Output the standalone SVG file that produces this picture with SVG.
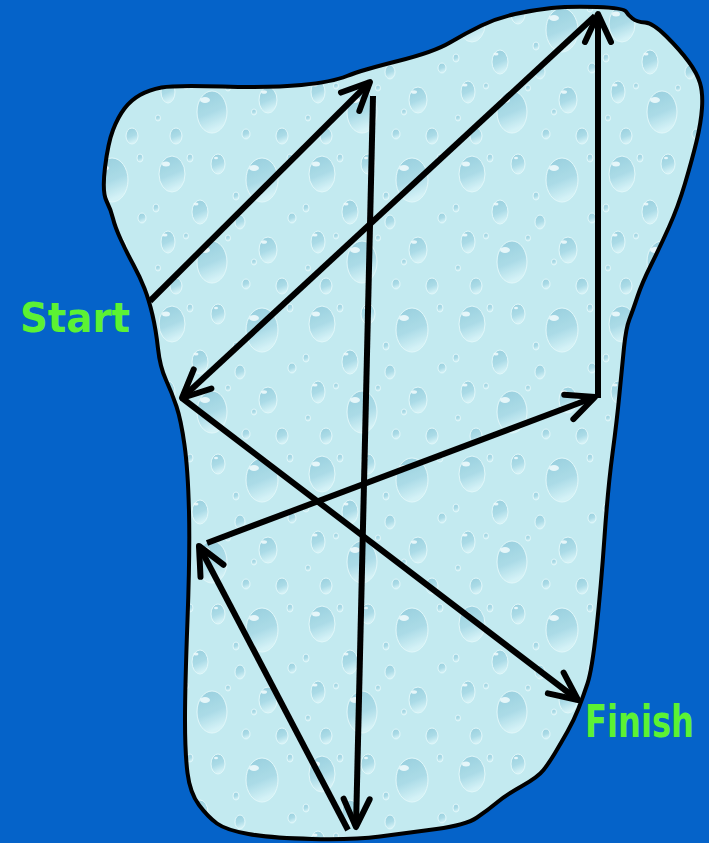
<svg xmlns="http://www.w3.org/2000/svg" width="709" height="843" viewBox="0 0 709 843">
  <defs>
    <linearGradient id="drop" x1="0" y1="0" x2="0.3" y2="1">
      <stop offset="0" stop-color="#93CCDB"/>
      <stop offset="0.6" stop-color="#A9DAE6"/>
      <stop offset="1" stop-color="#D6F3F7"/>
    </linearGradient>
    <pattern id="water" width="150" height="150" patternUnits="userSpaceOnUse">
      <rect width="150" height="150" fill="#C3EAF0"/>
      <g fill="url(#drop)" stroke="#E4F8FA" stroke-width="1" opacity="0.9">
        <ellipse cx="22" cy="24" rx="13" ry="18"/>
        <ellipse cx="68" cy="14" rx="7" ry="10"/>
        <ellipse cx="112" cy="30" rx="16" ry="22"/>
        <ellipse cx="50" cy="62" rx="8" ry="12"/>
        <ellipse cx="90" cy="72" rx="5" ry="7"/>
        <ellipse cx="18" cy="92" rx="7" ry="11"/>
        <ellipse cx="62" cy="112" rx="15" ry="21"/>
        <ellipse cx="118" cy="100" rx="9" ry="13"/>
        <ellipse cx="132" cy="136" rx="6" ry="8"/>
        <ellipse cx="26" cy="136" rx="6" ry="8"/>
        <ellipse cx="96" cy="134" rx="4" ry="5"/>
        <ellipse cx="142" cy="68" rx="4" ry="5"/>
        <ellipse cx="40" cy="8" rx="3" ry="4"/>
        <ellipse cx="86" cy="46" rx="3" ry="4"/>
        <ellipse cx="6" cy="58" rx="3" ry="4"/>
        <ellipse cx="36" cy="86" rx="2.5" ry="3"/>
        <ellipse cx="104" cy="112" rx="2.5" ry="3"/>
        <ellipse cx="140" cy="8" rx="3" ry="4"/>
        <ellipse cx="78" cy="88" rx="2.5" ry="3"/>
        <ellipse cx="8" cy="118" rx="2.5" ry="3"/>
      </g>
      <g fill="#F2FCFD" opacity="0.85">
        <ellipse cx="16" cy="14" rx="4" ry="2.5"/>
        <ellipse cx="104" cy="18" rx="5" ry="3"/>
        <ellipse cx="55" cy="100" rx="5" ry="3"/>
        <ellipse cx="46" cy="54" rx="2.5" ry="1.6"/>
        <ellipse cx="114" cy="92" rx="3" ry="1.8"/>
        <ellipse cx="15" cy="85" rx="2.5" ry="1.6"/>
        <ellipse cx="66" cy="8" rx="2" ry="1.3"/>
      </g>
    </pattern>
    <marker id="arrow" markerUnits="userSpaceOnUse" markerWidth="40" markerHeight="40" viewBox="-35 -20 40 40" refX="0" refY="0" orient="auto" overflow="visible">
      <path d="M-28,-13 L0,0 L-28,13" fill="none" stroke="#000" stroke-width="6" stroke-linecap="round" stroke-linejoin="round"/>
    </marker>
    <style>
      .arr { fill: none; stroke: #000; stroke-width: 6; stroke-linecap: butt; marker-end: url(#arrow); }
      .lbl { font-family: "Comic Sans MS", "DejaVu Sans", sans-serif; font-weight: bold; font-size: 37px; fill: #5CF233; }
    </style>
  </defs>

  <rect width="709" height="843" fill="#0563C9"/>

  <g id="region">
    <path d="M161.5,87.5 Q174,85 222.5,86.5 Q271,88 301.5,85 Q332,82 347,76 Q362,70 398,61 Q434,52 450,42.5 Q466,33 481.5,25.5 Q497,18 515,14 Q533,10 551.5,8 Q570,6 597,7 Q624,8 626,11.5 Q628,15 632.5,18.5 Q637,22 645,22.5 Q653,23 666.5,36.5 Q680,50 688.5,61.5 Q697,73 700,83 Q703,93 702,108 Q701,123 696.5,141.5 Q692,160 685,183.5 Q678,207 669,227 Q660,247 651,265 Q642,283 637.5,296.5 Q633,310 629.5,319 Q626,328 624,347.5 Q622,367 619.5,393.5 Q617,420 612.5,453.5 Q608,487 604.5,537 Q601,587 596.5,628.5 Q592,670 587.5,683.5 Q583,697 578.5,708.5 Q574,720 567.5,731.5 Q561,743 555,753 Q549,763 543.5,770 Q538,777 522,786 Q506,795 497,802.5 Q488,810 477,817.5 Q466,825 436.5,829 Q407,833 380,836.5 Q353,840 312,839 Q271,838 248.5,834 Q226,830 217,823.5 Q208,817 199,805 Q190,793 187.5,773 Q185,753 185,720 Q185,687 187.5,620 Q190,553 189,511.5 Q188,470 184.5,445 Q181,420 176.5,406.5 Q172,393 166,380 Q160,367 158,348.5 Q156,330 152.5,315 Q149,300 144.5,288.5 Q140,277 133.5,265 Q127,253 121,240 Q115,227 113,218.5 Q111,210 106.5,201 Q102,192 105,167.5 Q108,143 113,130 Q118,117 124.5,108.5 Q131,100 140,95 Q149,90 161.5,87.5 Z" fill="url(#water)" stroke="#000" stroke-width="4" stroke-linejoin="round"/>
  </g>

  <g id="connectors">
    <line class="arr" x1="150" y1="301" x2="370" y2="82"/>
    <line class="arr" x1="373" y1="96" x2="356" y2="827"/>
    <line class="arr" x1="348" y1="830" x2="199" y2="546"/>
    <line class="arr" x1="207" y1="543" x2="595" y2="397"/>
    <line class="arr" x1="598" y1="398" x2="598" y2="14"/>
    <line class="arr" x1="595" y1="16" x2="182" y2="398"/>
    <line class="arr" x1="182" y1="398" x2="578" y2="700"/>
  </g>

  <g id="start">
    <text class="lbl" transform="translate(20,332) scale(1,1.1)" x="0" y="0" textLength="110" lengthAdjust="spacingAndGlyphs">Start</text>
  </g>
  <g id="finish">
    <text class="lbl" transform="translate(585,737) scale(1,1.22)" x="0" y="0" textLength="109" lengthAdjust="spacingAndGlyphs">Finish</text>
  </g>
</svg>
